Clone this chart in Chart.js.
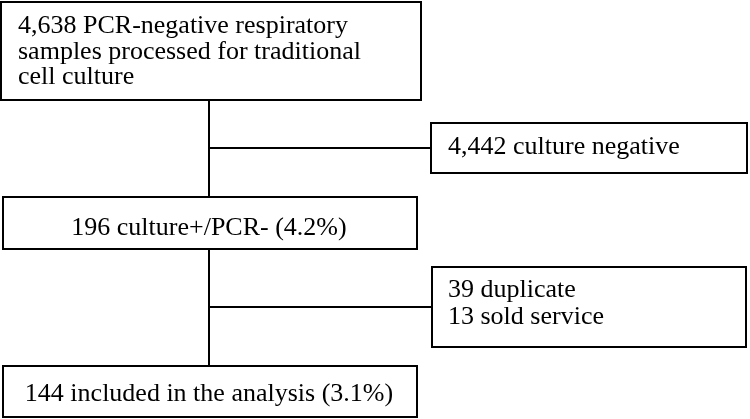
<!DOCTYPE html>
<html>
<head>
<meta charset="utf-8">
<script src="https://cdn.jsdelivr.net/npm/chart.js@4"></script>
<style>
  html, body { margin: 0; padding: 0; background: #fff; }
  #flowChart { display: block; }
</style>
</head>
<body>
<canvas id="flowChart" width="750" height="419"></canvas>
<script>
// Main steps of the flow (left column), top to bottom
const mainSteps = [
  ['4,638 PCR-negative respiratory', 'samples processed for traditional', 'cell culture'],
  ['196 culture+/PCR- (4.2%)'],
  ['144 included in the analysis (3.1%)']
];

// Exclusions branching off between the steps (right column)
const exclusions = [
  ['4,442 culture negative'],
  ['39 duplicate', '13 sold service']
];

// Box geometry in the hidden scale units (x: 0-750, y: 0-419 top-down)
const mainBoxes = [
  { x0: 1, x1: 421, y0: 2, y1: 100, align: 'left', textX: 18, baselines: [33, 58.5, 84] },
  { x0: 3, x1: 417, y0: 197, y1: 249, align: 'center', textX: 209, baselines: [235] },
  { x0: 3, x1: 417, y0: 366, y1: 417, align: 'center', textX: 209, baselines: [401] }
];
const sideBoxes = [
  { x0: 431, x1: 747, y0: 123, y1: 173, align: 'left', textX: 448, baselines: [154] },
  { x0: 432, x1: 746, y0: 267, y1: 347, align: 'left', textX: 448, baselines: [297, 324] }
];
const trunkX = 209;
const branchY = [148, 307];

const fontFamily = '"Liberation Serif", "DejaVu Serif", serif';
const fontSize = 26;

const flowPlugin = {
  id: 'flow',
  afterDraw(chart) {
    const ctx = chart.ctx;
    const xs = chart.scales.x;
    const ys = chart.scales.y;
    const px = v => xs.getPixelForValue(v);
    const py = v => ys.getPixelForValue(v);

    ctx.save();
    ctx.strokeStyle = '#000';
    ctx.lineWidth = 2;
    ctx.fillStyle = '#000';
    ctx.font = fontSize + 'px ' + fontFamily;
    ctx.textBaseline = 'alphabetic';

    // vertical trunk between main boxes
    for (let i = 0; i < mainBoxes.length - 1; i++) {
      ctx.beginPath();
      ctx.moveTo(px(trunkX), py(mainBoxes[i].y1));
      ctx.lineTo(px(trunkX), py(mainBoxes[i + 1].y0));
      ctx.stroke();
    }

    // branches to the exclusion boxes
    branchY.forEach((y, i) => {
      ctx.beginPath();
      ctx.moveTo(px(trunkX), py(y));
      ctx.lineTo(px(sideBoxes[i].x0), py(y));
      ctx.stroke();
    });

    const drawBox = (box, lines) => {
      ctx.strokeRect(px(box.x0), py(box.y0), px(box.x1) - px(box.x0), py(box.y1) - py(box.y0));
      ctx.textAlign = box.align;
      lines.forEach((line, j) => {
        ctx.fillText(line, px(box.textX), py(box.baselines[j]));
      });
    };

    mainBoxes.forEach((box, i) => drawBox(box, mainSteps[i]));
    sideBoxes.forEach((box, i) => drawBox(box, exclusions[i]));
    ctx.restore();
  }
};

new Chart(document.getElementById('flowChart'), {
  type: 'scatter',
  data: { datasets: [{ data: [], showLine: false }] },
  options: {
    responsive: false,
    devicePixelRatio: 1,
    animation: false,
    events: [],
    layout: { padding: 0 },
    plugins: { legend: { display: false }, tooltip: { enabled: false } },
    scales: {
      x: { type: 'linear', min: 0, max: 750, display: false },
      y: { type: 'linear', min: 0, max: 419, reverse: true, display: false }
    }
  },
  plugins: [flowPlugin]
});
</script>
</body>
</html>
